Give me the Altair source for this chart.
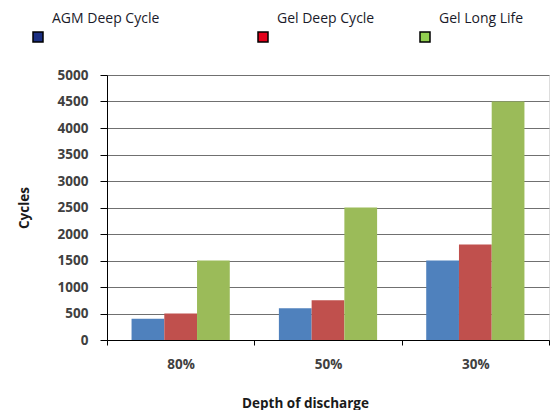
import altair as alt
import pandas as pd

categories = ["80%", "50%", "30%"]
series = ["AGM Deep Cycle", "Gel Deep Cycle", "Gel Long Life"]
agm_deep = [400, 600, 1500]
gel_deep = [500, 750, 1800]
gel_long = [1500, 2500, 4500]
y_ticks = [0, 500, 1000, 1500, 2000, 2500, 3000, 3500, 4000, 4500, 5000]

bar_colors = ["#4F81BD", "#C0504D", "#9BBB59"]
legend_colors = ["#1B2F82", "#E2001A", "#92D050"]
legend_x = [-55, 170, 332]

rows = []
for name, vals in zip(series, [agm_deep, gel_deep, gel_long]):
    for c, v in zip(categories, vals):
        rows.append({"dod": c, "series": name, "cycles": v})
df = pd.DataFrame(rows)

FONT = "Open Sans"

x_enc = alt.X(
    "dod:N", sort=categories,
    scale=alt.Scale(paddingInner=0, paddingOuter=0),
    axis=alt.Axis(
        title="Depth of discharge", titleFont=FONT, titleFontSize=13.5, titleFontWeight="bold",
        titleColor="#1a1a1a", titleX=198, titleY=63, titleBaseline="middle",
        labelFont=FONT, labelFontSize=13.5, labelFontWeight="bold", labelColor="#404040",
        labelPadding=12, labelAngle=0, tickBand="extent", tickSize=5, tickColor="#000000",
        domainColor="#000000", grid=False,
    ),
)

bars = alt.Chart(df).mark_bar().encode(
    x=x_enc,
    xOffset=alt.XOffset("series:N", sort=series,
                        scale=alt.Scale(paddingInner=0, paddingOuter=0.75)),
    y=alt.Y(
        "cycles:Q",
        scale=alt.Scale(domain=[0, 5000], nice=False),
        axis=alt.Axis(
            values=y_ticks, tickCount=11, format="d", labelOverlap=False,
            title="Cycles", titleFont=FONT, titleFontSize=13.5,
            titleFontWeight="bold", titleColor="#1a1a1a", titlePadding=26,
            labelFont=FONT, labelFontSize=13.5, labelFontWeight="bold", labelColor="#404040",
            labelPadding=12, tickSize=7, tickColor="#000000", domainColor="#000000",
            grid=True, gridColor="#707070", gridWidth=1,
        ),
    ),
    color=alt.Color("series:N", scale=alt.Scale(domain=series, range=bar_colors), legend=None),
)

layers = [bars]
for name, col, lx in zip(series, legend_colors, legend_x):
    lg = alt.Chart(df).transform_filter(alt.datum.series == name).mark_point(
        filled=True, size=0, opacity=0
    ).encode(
        color=alt.Color(
            "series:N",
            scale=alt.Scale(domain=[name], range=[col]),
            legend=alt.Legend(
                title=name, orient="none", legendX=lx, legendY=-63, padding=0,
                titleFont=FONT, titleFontSize=14, titleFontWeight="normal",
                titleColor="#1a1a2a", titlePadding=5, titleLimit=300,
                labelExpr="''", labelFontSize=10, symbolType="square", symbolSize=100,
                symbolOffset=-20, symbolStrokeColor="#000000", symbolStrokeWidth=1.5,
                symbolOpacity=1, symbolFillColor=col,
            ),
        ),
    )
    layers.append(lg)

chart = alt.layer(*layers).resolve_scale(color="independent").properties(
    width=442, height=265,
    autosize=alt.AutoSizeParams(type="none"),
    padding={"left": 99, "top": 67, "right": 1, "bottom": 70},
).configure_view(stroke="#868686", strokeWidth=1).configure(background="white")

chart.save("out.html", embed_options={"renderer": "svg", "actions": False})
